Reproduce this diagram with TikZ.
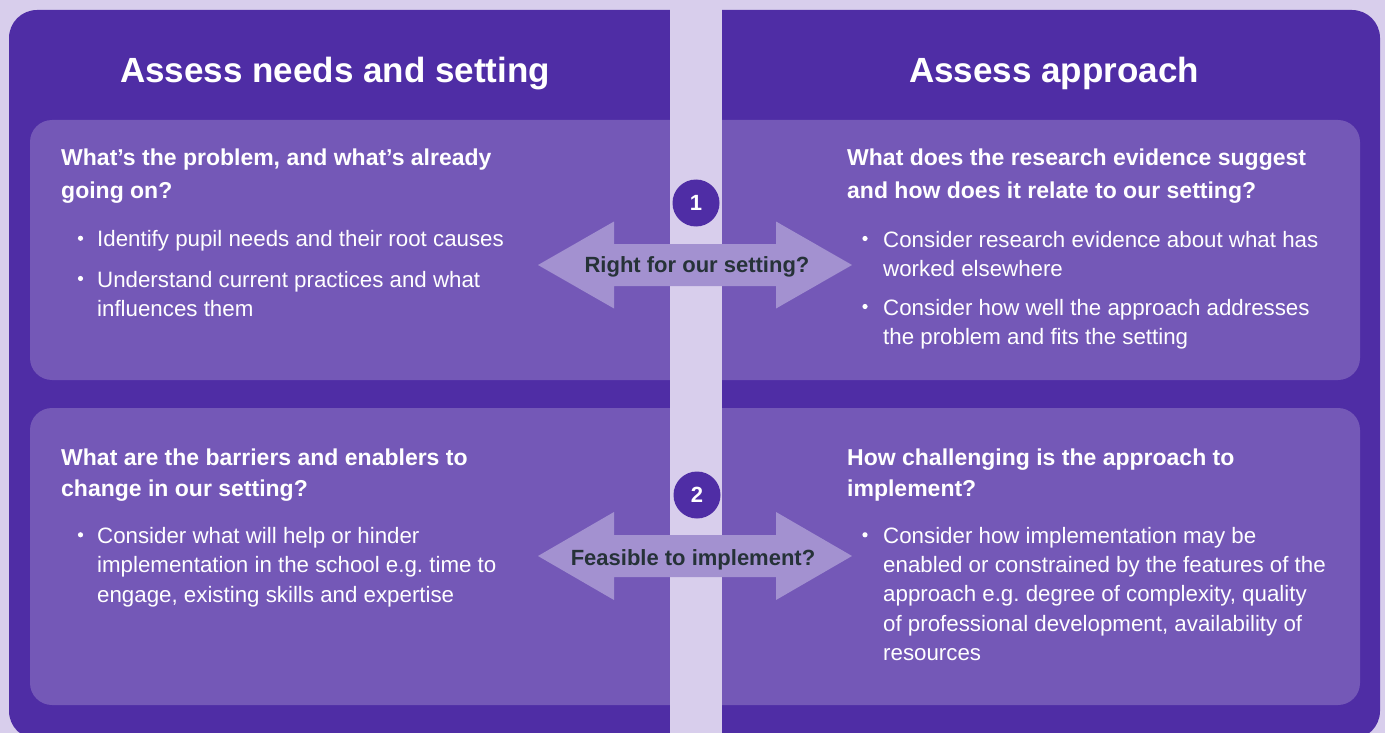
\documentclass[tikz,border=0pt]{standalone}
\usepackage{fontspec}
\setmainfont{Liberation Sans}
\frenchspacing
\definecolor{bg}{HTML}{D8CEEC}
\definecolor{dark}{HTML}{4F2DA5}
\definecolor{boxc}{HTML}{7458B7}
\definecolor{arr}{HTML}{A391D0}
\definecolor{lbl}{HTML}{263238}
\begin{document}
\begin{tikzpicture}[x=1pt,y=-1pt,
 title/.style={anchor=base, inner sep=0, text=white, font=\frenchspacing\fontsize{35}{42}\selectfont\bfseries},
 head/.style={anchor=base west, inner sep=0, text=white, font=\frenchspacing\fontsize{23}{28}\selectfont\bfseries},
 body/.style={anchor=base west, inner sep=0, text=white, font=\frenchspacing\fontsize{22.3}{28}\selectfont},
 lab/.style={anchor=base, inner sep=0, text=lbl, font=\fontsize{22}{26}\selectfont\bfseries},
 num/.style={circle, fill=dark, minimum size=47pt, inner sep=0, text=white, font=\fontsize{22}{26}\selectfont\bfseries},
 bul/.style={fill=white}]
\useasboundingbox (0,0) rectangle (1385,733);
\clip (0,0) rectangle (1385,733);
\fill[bg] (0,0) rectangle (1385,733);
% dark panel
\fill[dark, rounded corners=28pt] (9,10) rectangle (1380,739);
% inner boxes
\fill[boxc, rounded corners=22pt] (30,120) rectangle (700,380);
\fill[boxc, rounded corners=22pt] (692,120) rectangle (1360,380);
\fill[boxc, rounded corners=22pt] (30,408) rectangle (700,705);
\fill[boxc, rounded corners=22pt] (692,408) rectangle (1360,705);
% central strip
\fill[bg] (670,0) rectangle (722,733);
% double arrows
\fill[arr] (538,265) -- (614,221.5) -- (614,244) -- (776,244) -- (776,221.5) -- (852,265)
  -- (776,308.5) -- (776,286) -- (614,286) -- (614,308.5) -- cycle;
\fill[arr] (538,556) -- (614,512) -- (614,535) -- (776,535) -- (776,512) -- (852,556)
  -- (776,600) -- (776,577) -- (614,577) -- (614,600) -- cycle;
% numbers
\node[num] (n1) at (696,203) {1};
\node[num] (n2) at (697,495) {2};
% arrow labels
\node[lab] (l1) at (697,272) {Right for our setting?};
\node[lab] (l2) at (693,565) {Feasible to implement?};
% titles
\node[title] (t1) at (335,83) {Assess needs and setting};
\node[title] (t2) at (1054,83) {Assess approach};
% top-left
\node[head] (a1) at (61,166) {What’s the problem, and what’s already};
\node[head] (a2) at (61,199) {going on?};
\fill[bul] (80.5,238.3) circle (2.6);
\node[body] (a3) at (97,246.7) {Identify pupil needs and their root causes};
\fill[bul] (80.5,278.5) circle (2.6);
\node[body] (a4) at (97,287) {Understand current practices and what};
\node[body] (a5) at (97,316) {influences them};
% top-right
\node[head] (b1) at (847,166) {What does the research evidence suggest};
\node[head] (b2) at (847,198) {and how does it relate to our setting?};
\fill[bul] (865,238.5) circle (2.6);
\node[body] (b3) at (883,247) {Consider research evidence about what has};
\node[body] (b4) at (883,276) {worked elsewhere};
\fill[bul] (865,306.5) circle (2.6);
\node[body] (b5) at (883,315) {Consider how well the approach addresses};
\node[body] (b6) at (883,344) {the problem and fits the setting};
% bottom-left
\node[head] (c1) at (61,465) {What are the barriers and enablers to};
\node[head] (c2) at (61,496) {change in our setting?};
\fill[bul] (80.5,534.8) circle (2.6);
\node[body] (c3) at (97,543.3) {Consider what will help or hinder};
\node[body] (c4) at (97,572.7) {implementation in the school e.g. time to};
\node[body] (c5) at (97,602) {engage, existing skills and expertise};
% bottom-right
\node[head] (d1) at (847,465) {How challenging is the approach to};
\node[head] (d2) at (847,496) {implement?};
\fill[bul] (865,534.8) circle (2.6);
\node[body] (d3) at (883,543.3) {Consider how implementation may be};
\node[body] (d4) at (883,572.5) {enabled or constrained by the features of the};
\node[body] (d5) at (883,601.7) {approach e.g. degree of complexity, quality};
\node[body] (d6) at (883,631) {of professional development, availability of};
\node[body] (d7) at (883,660) {resources};
\end{tikzpicture}
\end{document}
